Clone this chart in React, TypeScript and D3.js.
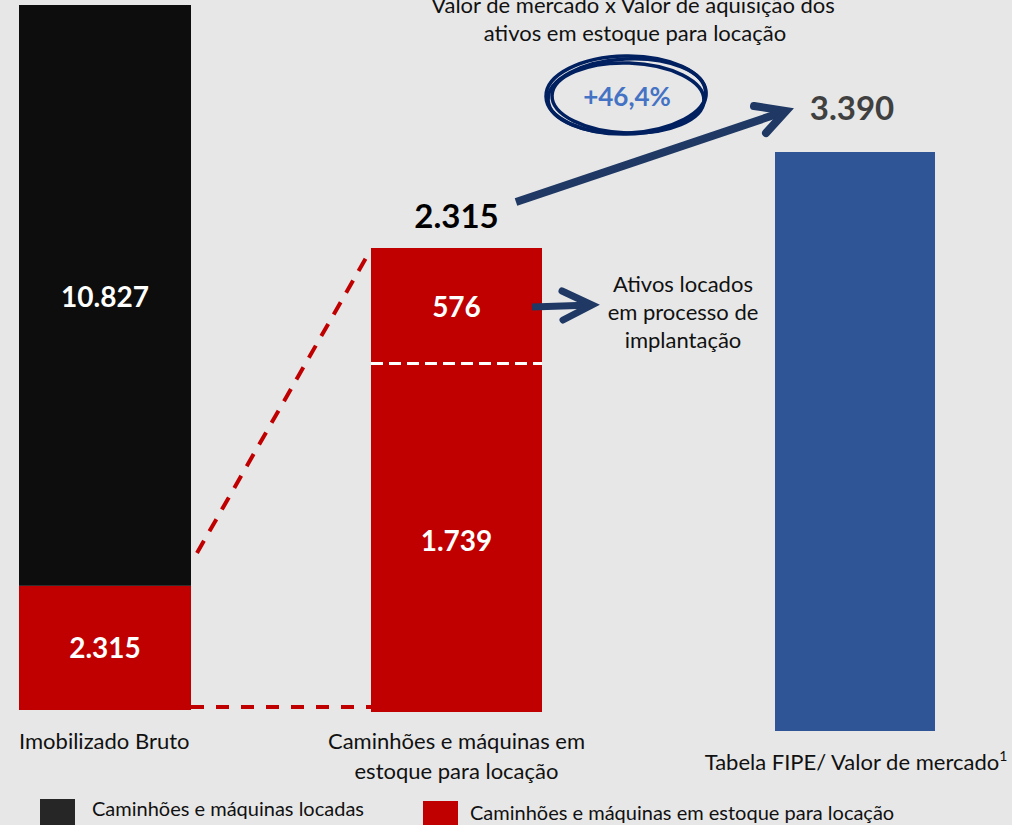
import React from "react";
import * as d3 from "d3";

// --- data ---
const categories = ["Imobilizado Bruto", "Estoque", "FIPE"];
const rentedAssets = [10827, 0, 0]; // caminhões e máquinas locadas
const stockAssets = [2315, 0, 0]; // caminhões e máquinas em estoque
const stockSplit = [1739, 576]; // em estoque / em processo de implantação
const marketValue = 3390;
const uplift = "+46,4%";

const fmt = (v: number) => d3.format(",")(v).replace(/,/g, ".");

const W = 1012;
const H = 825;
const FONT = "Lato, 'Open Sans', sans-serif";

const RED = "#c00000";
const BLACK = "#0d0d0d";
const BLUE = "#2f5597";
const NAVY = "#1f3864";

export default function App() {
  // bar horizontal placement
  const xLeft = d3.scaleOrdinal<string, number>().domain(categories).range([19, 371, 775]);
  const bw = d3.scaleOrdinal<string, number>().domain(categories).range([172, 171, 160]);

  // each bar is drawn on its own vertical scale (schematic chart)
  const y1 = d3.scaleLinear().domain([0, rentedAssets[0] + stockAssets[0]]).range([710, 5]);
  const y2 = d3.scaleLinear().domain([0, d3.sum(stockSplit)]).range([712, 248]);
  const y3 = d3.scaleLinear().domain([0, marketValue]).range([731, 152]);

  const c1 = xLeft(categories[0]) + bw(categories[0]) / 2;
  const c2 = xLeft(categories[1]) + bw(categories[1]) / 2;
  const c3 = xLeft(categories[2]) + bw(categories[2]) / 2;
  const r1 = xLeft(categories[0]) + bw(categories[0]);
  const r2 = xLeft(categories[1]) + bw(categories[1]);

  const splitY = y2(stockSplit[0]);
  const tot2 = d3.sum(stockSplit);

  const arrowBig = d3.line()([[516, 202], [786, 111]]);
  const arrowBigHead = d3.line()([[754, 106], [786, 111], [766, 133]]);
  const arrowSmall = d3.line()([[r2 - 10, 307], [592, 305]]);
  const arrowSmallHead = d3.line()([[562, 291], [592, 305], [563, 320]]);

  return (
    <svg
      width={W}
      height={H}
      style={{ position: "absolute", left: 0, top: 0, display: "block" }}
      fontFamily={FONT}
    >
      <rect width={W} height={H} fill="#e7e7e7" />

      {/* bar 1 */}
      <rect x={xLeft(categories[0])} width={bw(categories[0])} y={y1(stockAssets[0])} height={y1(0) - y1(stockAssets[0])} fill={RED} />
      <rect
        x={xLeft(categories[0])}
        width={bw(categories[0])}
        y={y1(stockAssets[0] + rentedAssets[0])}
        height={y1(stockAssets[0]) - y1(stockAssets[0] + rentedAssets[0])}
        fill={BLACK}
      />
      <text x={c1} y={307} textAnchor="middle" fill="#fff" fontWeight="bold" fontSize={28}>{fmt(rentedAssets[0])}</text>
      <text x={c1} y={658} textAnchor="middle" fill="#fff" fontWeight="bold" fontSize={28}>{fmt(stockAssets[0])}</text>

      {/* bar 2 */}
      <rect x={xLeft(categories[1])} width={bw(categories[1])} y={y2(tot2)} height={y2(0) - y2(tot2)} fill={RED} />
      <line x1={xLeft(categories[1])} x2={r2} y1={splitY} y2={splitY} stroke="#fff" strokeWidth={3} strokeDasharray="12 6" />
      <text x={c2} y={317} textAnchor="middle" fill="#fff" fontWeight="bold" fontSize={28}>{fmt(stockSplit[1])}</text>
      <text x={c2} y={551} textAnchor="middle" fill="#fff" fontWeight="bold" fontSize={28}>{fmt(stockSplit[0])}</text>
      <text x={c2} y={228} textAnchor="middle" fill="#000" fontWeight="bold" fontSize={33}>{fmt(tot2)}</text>

      {/* connectors */}
      <line x1={r1 + 6} y1={553} x2={xLeft(categories[1]) - 5} y2={y2(tot2) + 10} stroke={RED} strokeWidth={4} strokeDasharray="14 11" />
      <line x1={r1} y1={707} x2={xLeft(categories[1])} y2={707} stroke={RED} strokeWidth={4} strokeDasharray="13 12" />

      {/* bar 3 */}
      <rect x={xLeft(categories[2])} width={bw(categories[2])} y={y3(marketValue)} height={y3(0) - y3(marketValue)} fill={BLUE} />
      <text x={c3 - 3} y={120} textAnchor="middle" fill="#404040" fontWeight="bold" fontSize={33}>{fmt(marketValue)}</text>

      {/* arrows */}
      <path d={arrowBig ?? ""} stroke={NAVY} strokeWidth={8} fill="none" strokeLinecap="butt" />
      <path d={arrowBigHead ?? ""} stroke={NAVY} strokeWidth={8} fill="none" strokeLinecap="round" strokeLinejoin="miter" />
      <path d={arrowSmall ?? ""} stroke={NAVY} strokeWidth={7} fill="none" />
      <path d={arrowSmallHead ?? ""} stroke={NAVY} strokeWidth={7} fill="none" strokeLinecap="round" strokeLinejoin="miter" />

      {/* annotation text */}
      <g fontSize={22} fill="#111" textAnchor="middle">
        <text x={633} y={13}>Valor de mercado x Valor de aquisição dos</text>
        <text x={635} y={41}>ativos em estoque para locação</text>
        <text x={683} y={292}>Ativos locados</text>
        <text x={683} y={320}>em processo de</text>
        <text x={683} y={348}>implantação</text>
      </g>

      {/* hand-drawn ellipse */}
      <g fill="none" stroke="#002060" strokeWidth={3.5}>
        <ellipse cx={627} cy={96} rx={79} ry={37} transform="rotate(-3 627 96)" />
        <ellipse cx={628} cy={98} rx={76} ry={35} transform="rotate(2 628 98)" />
        <ellipse cx={626} cy={95} rx={80} ry={39} transform="rotate(-1 626 95)" />
      </g>
      <text x={627} y={106} textAnchor="middle" fill="#4472c4" fontWeight="bold" fontSize={26}>{uplift}</text>

      {/* category labels */}
      <g fontSize={22} fill="#111">
        <text x={xLeft(categories[0])} y={749}>Imobilizado Bruto</text>
        <text x={c2} y={749} textAnchor="middle">Caminhões e máquinas em</text>
        <text x={c2} y={779} textAnchor="middle">estoque para locação</text>
        <text x={856} y={770} textAnchor="middle">
          Tabela FIPE/ Valor de mercado
          <tspan fontSize={14} dy={-9}>1</tspan>
        </text>
      </g>

      {/* legend */}
      <rect x={40} y={799} width={35} height={26} fill="#262626" />
      <text x={92} y={816} fontSize={20} fill="#111">Caminhões e máquinas locadas</text>
      <rect x={423} y={801} width={35} height={26} fill={RED} />
      <text x={470} y={820} fontSize={20} fill="#111">Caminhões e máquinas em estoque para locação</text>
    </svg>
  );
}
